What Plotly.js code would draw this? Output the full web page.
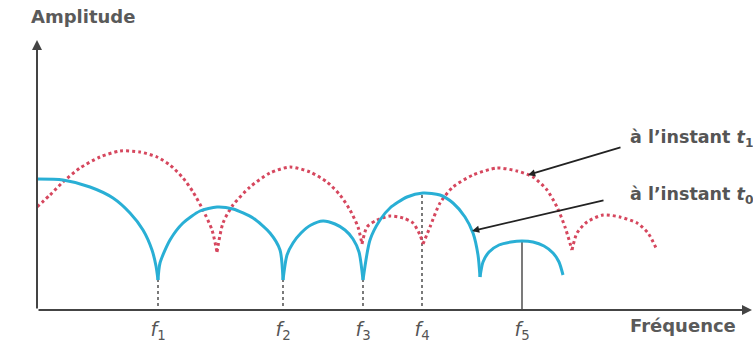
<!DOCTYPE html>
<html>
<head>
<meta charset="utf-8">
<script src="https://cdn.plot.ly/plotly-3.0.1.min.js"></script>
<style>html,body{margin:0;padding:0;background:#fff;}#chart{width:753px;height:342px;}</style>
</head>
<body>
<div id="chart"></div>
<script>
// Frequencies (tick positions) and labels
const freqX = [121, 246, 326, 385, 485];
const freqLabels = ['<i>f</i><sub>1</sub>', '<i>f</i><sub>2</sub>', '<i>f</i><sub>3</sub>', '<i>f</i><sub>4</sub>', '<i>f</i><sub>5</sub>'];
// Heights of the vertical markers at each frequency
const markerTop = [30, 30, 30, 117, 69];

// Spectrum at instant t0 (solid blue), lobes separated by null
const t0X = [0, 26, 53, 76, 93, 106, 115, 119, 121, null,
             121, 123, 133, 146, 163, 180, 196, 216, 233, 243, 246, null,
             246, 250, 256, 264, 274, 286, 298, 308, 316, 322, 326, null,
             326, 333, 343, 353, 370, 386, 403, 416, 428, 436, 441, 443, null,
             443, 446, 452, 462, 474, 485, 496, 507, 516, 522, 526];
const t0Y = [131, 130, 123, 112, 97, 80, 60, 44, 30, null,
             30, 47, 70, 87, 99, 103, 101, 92, 77, 60, 30, null,
             30, 55, 67, 77, 85, 89, 86, 80, 71, 58, 30, null,
             30, 70, 90, 102, 113, 117, 115, 107, 93, 77, 55, 33, null,
             33, 48, 58, 65, 68, 69, 68, 64, 57, 48, 35];

// Spectrum at instant t1 (dotted red)
const t1X = [0, 13, 26, 43, 63, 83, 103, 120, 133, 146, 156, 166, 175, 180, null,
             180, 186, 196, 213, 233, 253, 273, 290, 303, 313, 321, 325, null,
             325, 330, 340, 353, 366, 376, 383, 386, null,
             386, 393, 403, 416, 436, 460, 480, 496, 510, 520, 528, 535, null,
             535, 540, 550, 566, 583, 600, 611, 620];
const t1Y = [103, 115, 128, 142, 153, 159, 158, 153, 145, 132, 118, 100, 80, 58, null,
             58, 87, 105, 123, 137, 143, 138, 128, 115, 100, 83, 66, null,
             66, 83, 90, 94, 92, 87, 75, 66, null,
             66, 83, 107, 123, 135, 142, 139, 133, 120, 103, 83, 60, null,
             60, 77, 88, 95, 93, 87, 77, 60];

const traces = [];
// vertical markers
for (let i = 0; i < freqX.length; i++) {
  traces.push({
    x: [freqX[i], freqX[i]], y: [-2, markerTop[i]], mode: 'lines',
    line: {color: '#333', width: 1.3, dash: i === 4 ? 'solid' : 'dot'},
    hoverinfo: 'skip', showlegend: false, cliponaxis: false
  });
}
traces.push({
  x: t1X, y: t1Y, mode: 'lines', line: {color: '#d6475e', width: 3, dash: 'dot', shape: 'spline', smoothing: 0.7},
  connectgaps: false, showlegend: false
});
traces.push({
  x: t0X, y: t0Y, mode: 'lines', line: {color: '#29afd5', width: 3, shape: 'spline', smoothing: 0.7},
  connectgaps: false, showlegend: false
});

const titleFont = {family: 'DejaVu Sans, sans-serif', size: 18, color: '#5a5a5a', weight: 'bold'};
const calloutFont = {family: 'DejaVu Sans, sans-serif', size: 17.5, color: '#555', weight: 'bold'};
const pw = 753 - 37 - 1, ph = 342 - 40 - 32;
const layout = {
  width: 753, height: 342,
  margin: {l: 37, r: 1, t: 40, b: 32},
  paper_bgcolor: '#fff', plot_bgcolor: '#fff',
  xaxis: {range: [0, 715], showgrid: false, zeroline: false, showline: false,
          tickmode: 'array', tickvals: freqX, ticktext: freqLabels,
          ticks: 'outside', ticklen: 2, tickcolor: '#fff',
          tickfont: {family: 'DejaVu Sans, sans-serif', size: 19, color: '#555'}, fixedrange: true},
  yaxis: {range: [0, 270], showgrid: false, zeroline: false, showline: false,
          showticklabels: false, ticks: '', fixedrange: true},
  annotations: [
    // axes with arrows
    {x: 0, y: 270, ax: 0, ay: 0, xref: 'x', yref: 'y', axref: 'x', ayref: 'y', text: '',
     showarrow: true, arrowhead: 2, arrowsize: 1, arrowwidth: 2, arrowcolor: '#444'},
    {x: 715, y: 0, ax: 0, ay: 0, xref: 'x', yref: 'y', axref: 'x', ayref: 'y', text: '',
     showarrow: true, arrowhead: 2, arrowsize: 1, arrowwidth: 2, arrowcolor: '#444'},
    // axis titles
    {x: (29 - 37) / pw, y: (342 - 32 - 17) / ph, xref: 'paper', yref: 'paper',
     xanchor: 'left', yanchor: 'middle', text: 'Amplitude', showarrow: false, font: titleFont},
    {x: (628 - 37) / pw, y: (342 - 32 - 325) / ph, xref: 'paper', yref: 'paper',
     xanchor: 'left', yanchor: 'middle', text: 'Fréquence', showarrow: false, font: titleFont},
    // callouts
    {x: 491, y: 135, ax: 585, ay: 163, xref: 'x', yref: 'y', axref: 'x', ayref: 'y', text: '',
     showarrow: true, arrowhead: 2, arrowsize: 0.8, arrowwidth: 1.8, arrowcolor: '#222'},
    {x: 435, y: 79, ax: 568, ay: 110, xref: 'x', yref: 'y', axref: 'x', ayref: 'y', text: '',
     showarrow: true, arrowhead: 2, arrowsize: 0.8, arrowwidth: 1.8, arrowcolor: '#222'},
    {x: 591, y: 172, xref: 'x', yref: 'y', xanchor: 'left', text: 'à l\u2019instant <i>t</i><sub>1</sub>',
     showarrow: false, font: calloutFont},
    {x: 591, y: 115, xref: 'x', yref: 'y', xanchor: 'left', text: 'à l\u2019instant <i>t</i><sub>0</sub>',
     showarrow: false, font: calloutFont}
  ]
};

Plotly.newPlot('chart', traces, layout, {displayModeBar: false, staticPlot: true});
</script>
</body>
</html>
